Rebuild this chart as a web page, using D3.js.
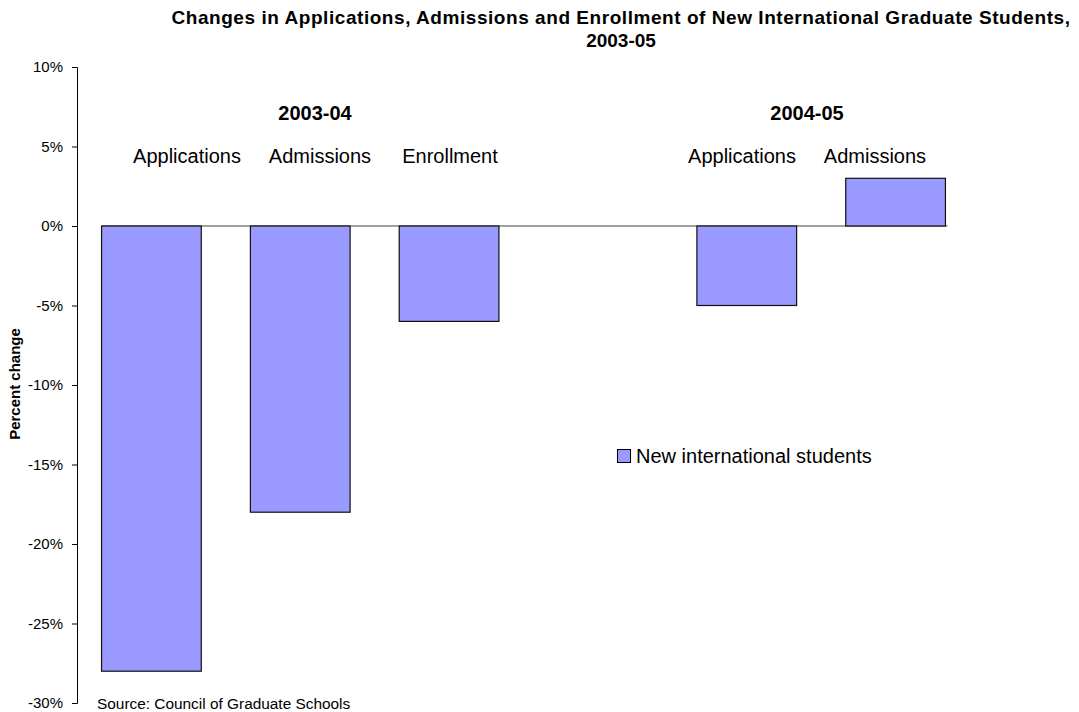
<!DOCTYPE html>
<html lang="en">
<head>
    <meta charset="UTF-8">
    <title>New International Graduate Students</title>
    <script src="https://d3js.org/d3.v7.min.js"></script>
    <style>
        body {
            margin: 0;
            background: #fff;
            font-family: "Liberation Sans", Arial, sans-serif;
        }
        .tick-label { font-size: 15px; fill: #000; }
        .cat-label { font-size: 20px; fill: #000; }
        .group-label { font-size: 20px; font-weight: bold; fill: #000; }
    </style>
</head>
<body>
    <div id="chart"></div>
    <script>
        // data
        const slots = ['apps0304', 'adm0304', 'enr0304', 'gap', 'apps0405', 'adm0405'];
        const values = [-28, -18, -6, null, -5, 3];
        const catLabels = ['Applications', 'Admissions', 'Enrollment', '', 'Applications', 'Admissions'];
        const groupLabels = ['2003-04', '2004-05'];
        const yTicks = [10, 5, 0, -5, -10, -15, -20, -25, -30];

        const width = 1079, height = 712;
        const barColor = '#9999ff';

        const svg = d3.select('#chart').append('svg')
            .attr('width', width)
            .attr('height', height);

        const x = d3.scaleBand()
            .domain(slots)
            .range([77, 970])
            .paddingInner(0.33)
            .paddingOuter(0.165);

        const y = d3.scaleLinear()
            .domain([-30, 10])
            .range([703, 67]);

        // title
        const title = svg.append('text')
            .attr('text-anchor', 'middle')
            .style('font-size', '19px')
            .style('font-weight', 'bold');
        title.append('tspan').attr('x', 621).attr('y', 24)
            .style('letter-spacing', '0.55px')
            .text('Changes in Applications, Admissions and Enrollment of New International Graduate Students,');
        title.append('tspan').attr('x', 621).attr('y', 47)
            .text('2003-05');

        // y axis
        const yAxis = svg.append('g')
            .attr('transform', 'translate(77,0)')
            .call(d3.axisLeft(y).tickValues(yTicks).tickSize(5).tickPadding(9)
                .tickFormat(d => d + '%'));
        yAxis.select('.domain').attr('stroke', '#000');
        yAxis.selectAll('.tick line').attr('stroke', '#000');
        yAxis.selectAll('.tick text')
            .attr('class', 'tick-label')
            .style('font-family', '"Liberation Sans", Arial, sans-serif')
            .style('font-size', '15px');

        svg.append('text')
            .attr('transform', 'translate(20,384) rotate(-90)')
            .attr('text-anchor', 'middle')
            .style('font-size', '15px')
            .style('font-weight', 'bold')
            .text('Percent change');

        // zero line
        const barData = slots.map((s, i) => ({ key: s, value: values[i] }))
            .filter(d => d.value !== null);
        svg.append('line')
            .attr('x1', x(slots[0]))
            .attr('x2', x(slots[slots.length - 1]) + x.bandwidth() + 2)
            .attr('y1', y(0)).attr('y2', y(0))
            .attr('stroke', '#444')
            .attr('stroke-width', 1.2);

        // bars
        svg.selectAll('rect.bar')
            .data(barData)
            .enter()
            .append('rect')
            .attr('class', 'bar')
            .attr('x', d => x(d.key))
            .attr('width', x.bandwidth())
            .attr('y', d => y(Math.max(0, d.value)))
            .attr('height', d => Math.abs(y(d.value) - y(0)))
            .attr('fill', barColor)
            .attr('stroke', '#111')
            .attr('stroke-width', 1.2);

        // category labels (placed as text boxes above the bars)
        const catX = [187, 320, 450, 0, 742, 875];
        catLabels.forEach((t, i) => {
            if (!t) return;
            svg.append('text')
                .attr('class', 'cat-label')
                .attr('x', catX[i])
                .attr('y', 163)
                .attr('text-anchor', 'middle')
                .text(t);
        });

        const groupX = [315, 807];
        groupLabels.forEach((t, i) => {
            svg.append('text')
                .attr('class', 'group-label')
                .attr('x', groupX[i])
                .attr('y', 120)
                .attr('text-anchor', 'middle')
                .text(t);
        });

        // legend
        svg.append('rect')
            .attr('x', 617.5).attr('y', 449.5)
            .attr('width', 13).attr('height', 13)
            .attr('fill', barColor)
            .attr('stroke', '#000');
        svg.append('text')
            .attr('class', 'cat-label')
            .attr('x', 636)
            .attr('y', 463)
            .text('New international students');

        // source
        svg.append('text')
            .attr('x', 97)
            .attr('y', 709)
            .style('font-size', '15.4px')
            .text('Source: Council of Graduate Schools');
    </script>
</body>
</html>
